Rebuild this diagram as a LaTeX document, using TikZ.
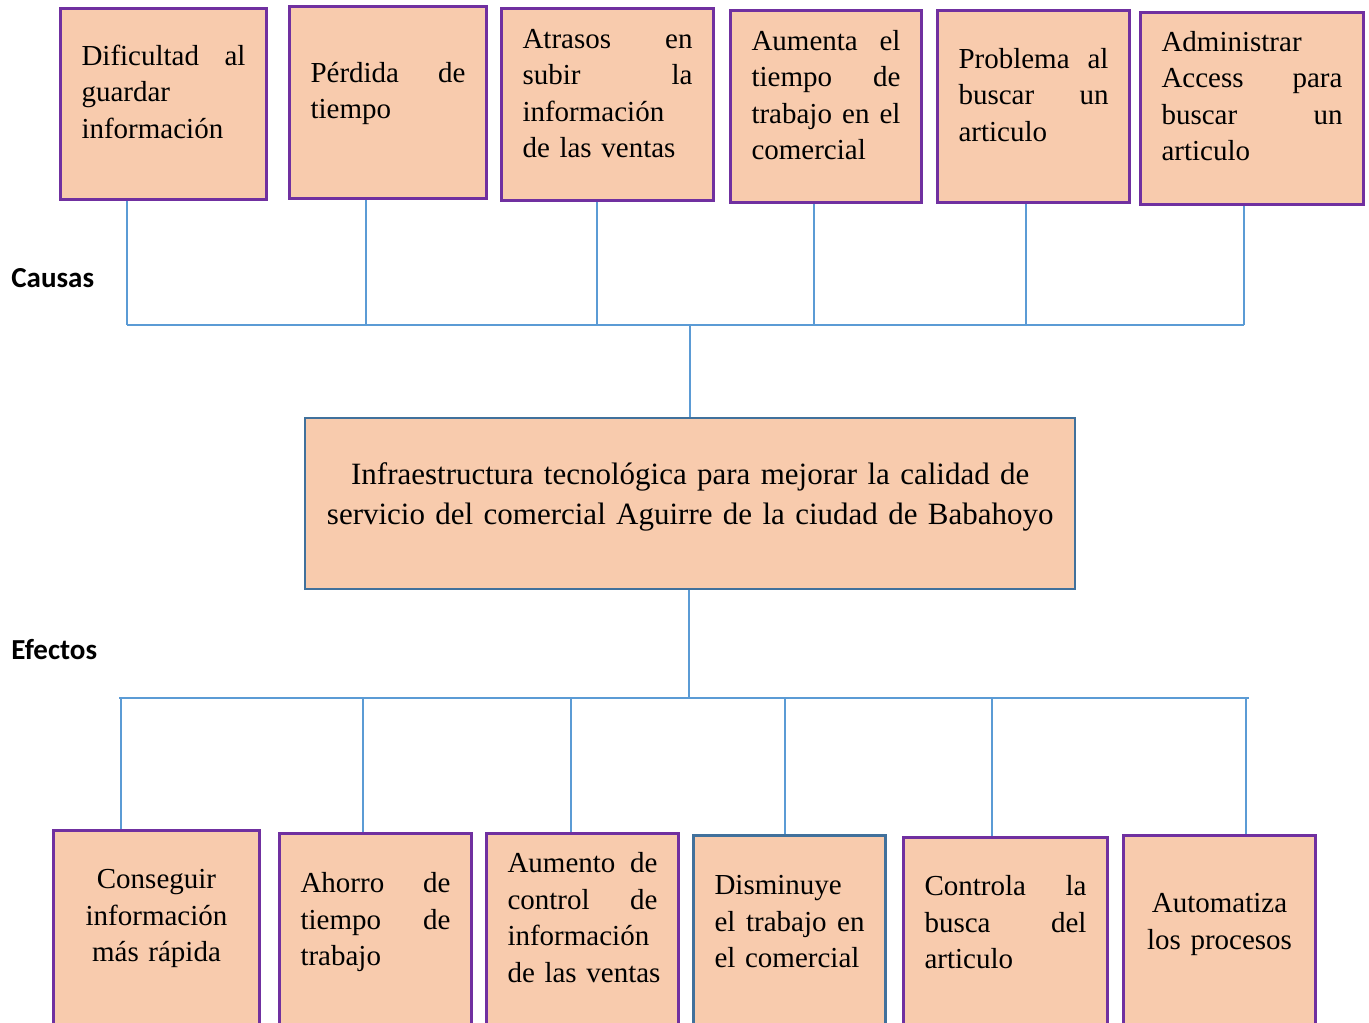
\documentclass[tikz,border=0pt]{standalone}
\usepackage{fontspec}
\setmainfont{Liberation Serif}
\newfontfamily\lblfont{Carlito}
\usetikzlibrary{positioning}

\definecolor{peach}{HTML}{F8CBAD}
\definecolor{violet}{HTML}{7030A0}
\definecolor{steel}{HTML}{41719C}
\definecolor{wire}{HTML}{5B9BD5}

\tikzset{
    dims/.style args={#1/#2/#3}{
        text width=#1, text height=#2, text depth=#3
    }
}

\begin{document}
\begin{tikzpicture}[
        x=0.5pt, y=-0.5pt,
        cause/.style={rectangle, draw=violet, line width=1.5pt, fill=peach,
            anchor=north west, inner xsep=10.5pt, inner ysep=0pt, align=left,
            font=\fontsize{14.5}{18.25}\selectfont},
        effect/.style={cause},
        problem/.style={rectangle, draw=steel, line width=1.2pt, fill=peach,
            anchor=north west, inner xsep=5pt, inner ysep=0pt, align=center,
            font=\fontsize{15.5}{20}\selectfont},
        heading/.style={anchor=west, inner sep=0pt,
            font=\lblfont\bfseries\fontsize{14.5}{17}\selectfont},
        link/.style={draw=wire, line width=0.6pt},
    ]

    \clip (0,0) rectangle (1369,1022);
    \fill[white] (0,0) rectangle (1369,1022);

    % causas
    \node[cause, dims=82pt/28.5pt/67pt]     (C1) at (59,7)    {Dificultad\hfill al\\guardar\\información};
    \node[cause, dims=77.5pt/38pt/58pt]     (C2) at (288,5)   {Pérdida\hfill de\\tiempo};
    \node[cause, dims=85pt/20pt/76pt]       (C3) at (500,7)   {Atrasos\hfill en\\subir\hfill la\\información\\de las ventas};
    \node[cause, dims=74.5pt/20pt/76pt]     (C4) at (729,9)   {Aumenta\hfill el\\tiempo\hfill de\\trabajo\hfill en\hfill el\\comercial};
    \node[cause, dims=75pt/29pt/67pt]       (C5) at (936,9)   {Problema\hfill al\\buscar\hfill un\\articulo};
    \node[cause, dims=90.5pt/19.5pt/76.5pt] (C6) at (1139,11) {Administrar\\Access\hfill para\\buscar\hfill un\\articulo};

    \node[heading] (CA) at (11,278) {Causas};

    % problema central
    \node[problem, dims=375pt/33pt/52.5pt] (P) at (304,417)
        {Infraestructura tecnológica para mejorar la calidad de\\servicio del comercial Aguirre de la ciudad de Babahoyo};

    \node[heading] (EF) at (11,650) {Efectos};

    % efectos
    \node[effect, align=center, dims=82pt/29pt/90pt] (E1) at (52,829)  {Conseguir\\información\\más rápida};
    \node[effect, dims=75pt/29.5pt/90pt]             (E2) at (278,832) {Ahorro\hfill de\\tiempo\hfill de\\trabajo};
    \node[effect, dims=75pt/19.5pt/100pt]            (E3) at (485,832) {Aumento\hfill de\\control\hfill de\\información\\\mbox{de las ventas}};
    \node[effect, draw=steel, dims=75pt/29.5pt/90pt] (E4) at (692,834) {Disminuye\\el\hfill trabajo\hfill en\\el comercial};
    \node[effect, dims=81pt/29pt/90pt]               (E5) at (902,836) {Controla\hfill la\\busca\hfill del\\articulo};
    \node[effect, align=center, dims=75pt/38.5pt/80pt] (E6) at (1122,834) {Automatiza\\los procesos};

    % conectores causas
    \coordinate (K1) at (127,325);
    \coordinate (K2) at (366,325);
    \coordinate (K3) at (597,325);
    \coordinate (K4) at (814,325);
    \coordinate (K5) at (1026,325);
    \coordinate (K6) at (1244,325);
    \coordinate (KP) at (690,325);

    \draw[link] (C1.south -| K1) -- (K1);
    \draw[link] (C2.south -| K2) -- (K2);
    \draw[link] (C3.south -| K3) -- (K3);
    \draw[link] (C4.south -| K4) -- (K4);
    \draw[link] (C5.south -| K5) -- (K5);
    \draw[link] (C6.south -| K6) -- (K6);
    \draw[link] (K1) -- (K6);
    \draw[link] (KP) -- (P.north -| KP);

    % conectores efectos
    \coordinate (F1) at (121,698);
    \coordinate (F2) at (363,698);
    \coordinate (F3) at (571,698);
    \coordinate (F4) at (785,698);
    \coordinate (F5) at (992,698);
    \coordinate (F6) at (1246,698);
    \coordinate (FP) at (689,698);
    \coordinate (FR) at (1249,698);
    \coordinate (FL) at (119,698);

    \draw[link] (P.south -| FP) -- (FP);
    \draw[link] (FL) -- (FR);
    \draw[link] (F1) -- (E1.north -| F1);
    \draw[link] (F2) -- (E2.north -| F2);
    \draw[link] (F3) -- (E3.north -| F3);
    \draw[link] (F4) -- (E4.north -| F4);
    \draw[link] (F5) -- (E5.north -| F5);
    \draw[link] (F6) -- (E6.north -| F6);

\end{tikzpicture}
\end{document}
